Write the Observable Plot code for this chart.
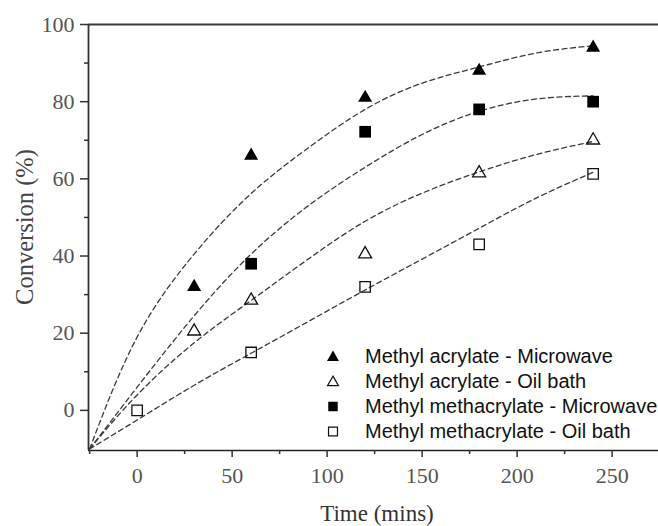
<!DOCTYPE html>
<html>
<head>
<meta charset="utf-8">
<script src="https://cdn.jsdelivr.net/npm/d3@7"></script>
<script src="https://cdn.jsdelivr.net/npm/@observablehq/plot@0.6"></script>
<style>
html, body { margin: 0; padding: 0; background: #fff; }
#wrap { position: relative; width: 658px; height: 526px; overflow: hidden; background: #fff; }
#legend { position: absolute; left: 320px; top: 344px; font-family: "Liberation Sans", Arial, sans-serif; font-size: 20px; color: #111; }
#legend .row { display: flex; align-items: center; height: 25px; white-space: nowrap; }
#legend svg { display: block; }
#legend span { margin-left: 19px; }
</style>
</head>
<body>
<div id="wrap"><div id="legend"></div></div>
<script>
// ---- data ----
const times = [0, 30, 60, 120, 180, 240];
const maMicrowave  = [null, 32, 66, 81, 88, 94];
const maOilBath    = [null, 20.5, 28.5, 40.5, 61.5, 70];
const mmaMicrowave = [null, null, 38, 72.2, 78, 80];
const mmaOilBath   = [0, null, 15, 32, 43, 61.3];

// dashed fitted curves
const fitTimes       = [-25, 0, 30, 60, 90, 120, 150, 180, 210, 240];
const fitMaMicrowave  = [-10, 19, 40.5, 56.2, 68, 78, 84.8, 89, 92.6, 94.5];
const fitMaOilBath    = [-10, 4, 17.5, 28.5, 39.2, 49, 56.3, 61.8, 66.3, 69.7];
const fitMmaMicrowave = [-10, 6, 24.5, 40.5, 53, 63, 71.5, 77.5, 80.7, 81.5];
const fitMmaOilBath   = [-10, -2.5, 6.5, 14.8, 23, 31.2, 39.2, 47.2, 55, 61.7];

const seriesNames = ["Methyl acrylate - Microwave", "Methyl acrylate - Oil bath", "Methyl methacrylate - Microwave", "Methyl methacrylate - Oil bath"];
const seriesSymbols = ["triangle", "triangle", "square", "square"];
const seriesFilled = [true, false, true, false];

const xMajorTicks = [0, 50, 100, 150, 200, 250];
const xMinorTicks = [-25, 25, 75, 125, 175, 225];
const yMajorTicks = [0, 20, 40, 60, 80, 100];
const yMinorTicks = [10, 30, 50, 70, 90];
const xDomain = [-25.6, 274.4];
const yDomain = [-10.4, 100];
const xTitle = "Time (mins)";
const yTitle = "Conversion (%)";

// ---- build tables ----
const seriesValues = [maMicrowave, maOilBath, mmaMicrowave, mmaOilBath];
const seriesFits = [fitMaMicrowave, fitMaOilBath, fitMmaMicrowave, fitMmaOilBath];
const pointRows = seriesValues.map((vals, s) =>
  times.map((t, i) => ({series: seriesNames[s], t, v: vals[i]})).filter(d => d.v != null));
const fitRows = seriesFits.flatMap((vals, s) =>
  fitTimes.map((t, i) => ({series: seriesNames[s], t, v: vals[i]})));

// symbol styles
const symStyle = [
  {symbol: "triangle", r: 5.2, fill: "#000", stroke: "none", strokeWidth: 0},
  {symbol: "triangle", r: 4.8, fill: "none", stroke: "#111", strokeWidth: 1.3},
  {symbol: "square", r: 6.6, fill: "#000", stroke: "none", strokeWidth: 0},
  {symbol: "square", r: 5.9, fill: "none", stroke: "#111", strokeWidth: 1.3}
];

const serifFamily = "'Liberation Serif', 'Times New Roman', serif";

const chart = Plot.plot({
  width: 658,
  height: 526,
  marginLeft: 88,
  marginRight: 0,
  marginTop: 24,
  marginBottom: 76,
  x: {domain: xDomain},
  y: {domain: yDomain},
  style: {background: "white", overflow: "hidden", fontFamily: serifFamily},
  marks: [
    Plot.line(fitRows, {x: "t", y: "v", z: "series", curve: "natural", stroke: "#3a3a3a", strokeWidth: 1.3, strokeDasharray: "5,3.5"}),
    ...pointRows.map((rows, s) => Plot.dot(rows, {x: "t", y: "v", ...symStyle[s]})),
    Plot.ruleY([yDomain[1]], {stroke: "#3a3a3a", strokeWidth: 2}),
    Plot.ruleY([yDomain[0]], {stroke: "#222", strokeWidth: 1.6}),
    Plot.ruleX([xDomain[0]], {stroke: "#333", strokeWidth: 1.8}),
    Plot.axisY(yMajorTicks, {tickSize: 8, tickPadding: 6, stroke: "#333", strokeWidth: 1.5, fill: "#555", fontSize: 22, label: null}),
    Plot.axisY(yMinorTicks, {tickSize: 4, stroke: "#333", strokeWidth: 1.5, fill: "none", label: null}),
    Plot.axisX(xMajorTicks, {tickSize: 7, tickPadding: 10, stroke: "#333", strokeWidth: 1.5, fill: "#555", fontSize: 22, label: null}),
    Plot.axisX(xMinorTicks, {tickSize: 4, stroke: "#333", strokeWidth: 1.5, fill: "none", label: null})
  ]
});

const svg = d3.select(chart);
svg.append("text")
  .attr("x", 377).attr("y", 521)
  .attr("text-anchor", "middle")
  .attr("font-size", 23).attr("fill", "#333")
  .text(xTitle);
svg.append("text")
  .attr("transform", "translate(33,227) rotate(-90)")
  .attr("text-anchor", "middle")
  .attr("font-size", 24.5).attr("fill", "#444")
  .text(yTitle);
// force the serif face on every text of the chart (tick labels and titles)
svg.selectAll("text, g").style("font-family", serifFamily).style("font-variant", "normal");

const wrap = document.getElementById("wrap");
wrap.insertBefore(chart, wrap.firstChild);

// ---- legend ----
const legend = d3.select("#legend");
const legendSize = [62, 52, 90, 80];
seriesNames.forEach((name, s) => {
  const row = legend.append("div").attr("class", "row");
  const icon = row.append("svg").attr("width", 26).attr("height", 25);
  const type = seriesSymbols[s] === "triangle" ? d3.symbolTriangle : d3.symbolSquare;
  icon.append("path")
    .attr("transform", `translate(13,${seriesSymbols[s] === "triangle" ? 13.5 : 12.5})`)
    .attr("d", d3.symbol(type, legendSize[s])())
    .attr("fill", seriesFilled[s] ? "#000" : "none")
    .attr("stroke", seriesFilled[s] ? "none" : "#111")
    .attr("stroke-width", 1.2);
  row.append("span").text(name);
});
</script>
</body>
</html>
